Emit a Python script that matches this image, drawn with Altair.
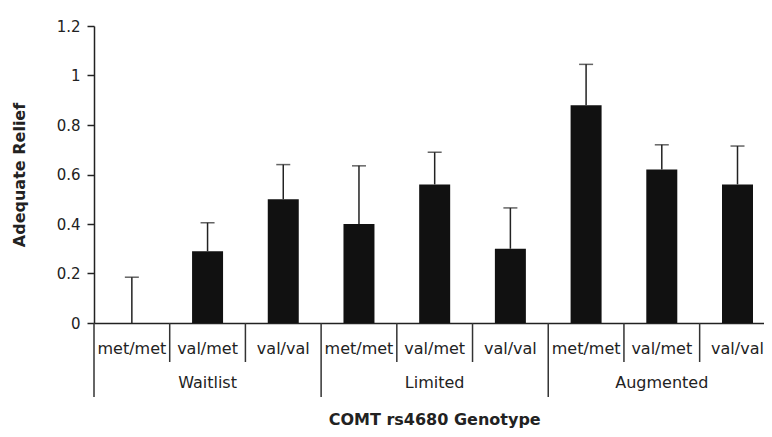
import altair as alt
import pandas as pd

# ---- data ----
groups = ["Waitlist", "Limited", "Augmented"]
genotypes = ["met/met", "val/met", "val/val"]
means = [0.0, 0.29, 0.50, 0.40, 0.56, 0.30, 0.88, 0.62, 0.56]
errors = [0.185, 0.115, 0.14, 0.235, 0.13, 0.165, 0.165, 0.10, 0.155]
y_ticks = [0, 0.2, 0.4, 0.6, 0.8, 1, 1.2]
x_title = "COMT rs4680 Genotype"
y_title = "Adequate Relief"

FONT = "DejaVu Sans"
INK = "#222222"
W, H = 670, 297

rows = []
for gi, g in enumerate(groups):
    for ci, c in enumerate(genotypes):
        i = gi * len(genotypes) + ci
        rows.append(dict(group=g, genotype=c, pos=i + 0.5, edge=i,
                         first=(ci == 0), mean=means[i], top=means[i] + errors[i]))
df = pd.DataFrame(rows)
grp_df = pd.DataFrame({"group": groups,
                       "center": [gi * len(genotypes) + len(genotypes) / 2 for gi in range(len(groups))]})
title_df = pd.DataFrame({"label": [x_title], "center": [len(means) / 2]})

xscale = alt.Scale(domain=[0, 8.85], nice=False, zero=False, padding=0)
yscale = alt.Scale(domain=[0, 1.2], nice=False, padding=0)

x_axis = alt.Axis(title=None, labels=False, ticks=False, grid=False,
                  domainColor=INK, domainWidth=1.5)
y_axis = alt.Axis(title=y_title, values=y_ticks, format="~g", grid=False,
                  tickSize=7, labelPadding=7, tickColor=INK, tickWidth=1.5,
                  domainColor=INK, domainWidth=1.5,
                  labelFont=FONT, labelFontSize=15, labelColor=INK,
                  titleFont=FONT, titleFontSize=16, titleFontWeight="bold",
                  titleColor=INK, titleX=-75, titleBaseline="middle")


def X(field):
    return alt.X(field, scale=xscale, axis=x_axis, title=None)


def Y(field):
    return alt.Y(field, scale=yscale, axis=y_axis, title=y_title)


bars = alt.Chart(df).mark_bar(size=31, color="#111111").encode(
    x=X("pos:Q"), y=Y("mean:Q"), y2=alt.datum(0),
)

err_lines = alt.Chart(df).mark_rule(color=INK, strokeWidth=1.5).encode(
    x=X("pos:Q"), y=Y("mean:Q"), y2="top:Q",
)

caps = alt.Chart(df).mark_tick(orient="horizontal", size=14, thickness=1.5, color=INK).encode(
    x=X("pos:Q"), y=Y("top:Q"),
)

sep_short = alt.Chart(df).transform_filter("!datum.first").mark_rule(
    color="#333333", strokeWidth=1.5).encode(
    x=X("edge:Q"), y=alt.value(H), y2=alt.value(H + 39),
)

sep_long = alt.Chart(df).transform_filter("datum.first").mark_rule(
    color="#333333", strokeWidth=1.5).encode(
    x=X("edge:Q"), y=alt.value(H), y2=alt.value(H + 74),
)

cat_labels = alt.Chart(df).mark_text(font=FONT, fontSize=16, color=INK, baseline="middle").encode(
    x=X("pos:Q"), y=alt.value(H + 26), text="genotype:N",
)

grp_labels = alt.Chart(grp_df).mark_text(font=FONT, fontSize=16, color=INK, baseline="middle").encode(
    x=X("center:Q"), y=alt.value(H + 60), text="group:N",
)

x_title_mark = alt.Chart(title_df).mark_text(font=FONT, fontSize=16, fontWeight="bold",
                                             color=INK, baseline="alphabetic").encode(
    x=X("center:Q"), y=alt.value(H + 102), text="label:N",
)

chart = alt.layer(
    bars, err_lines, caps, sep_short, sep_long, cat_labels, grp_labels, x_title_mark
).properties(
    width=W, height=H,
    autosize=alt.AutoSizeParams(type="none"),
    padding={"left": 86, "top": 18, "right": 0, "bottom": 106},
    background="white",
).configure_view(stroke=None)

chart.save("out.html", embed_options={"renderer": "svg", "actions": False})
